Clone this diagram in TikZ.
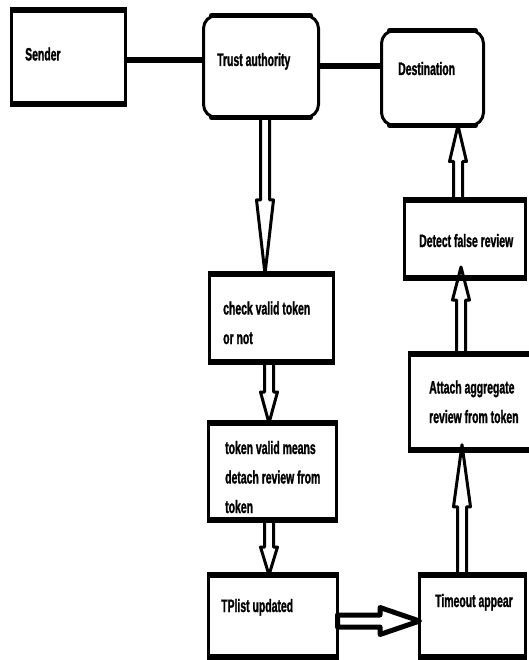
\documentclass[tikz,border=0pt]{standalone}
\usepackage{fontspec}
\newfontfamily\lblfont[FakeStretch=0.58, FakeBold=1.2]{Liberation Sans}
\usetikzlibrary{calc}
\tikzset{
  box/.style={draw, line width=3pt, inner sep=0pt, outer sep=0pt},
  rbox/.style={box, rounded corners=13pt},
  heavy/.style={line width=6pt, shorten <=-1.5pt, shorten >=-1.5pt},
  rheavy/.style={line width=5pt, shorten <=8pt, shorten >=8pt, line cap=round},
  link/.style={line width=6pt},
  lbl/.style={anchor=base west, inner sep=0pt, font=\lblfont\bfseries\fontsize{18}{29.5}\selectfont, align=left},
  harr/.style={line width=3pt, line join=round},
  hharr/.style={line width=5pt, line join=round},
  harrow/.style n args={3}{to path={
    let \p1=(\tikztostart), \p2=(\tikztotarget), \p3=($(\p2)!#1!(\p1)$) in
    ($(\p1)!#2!90:(\p2)$) -- ($(\p3)!#2!90:(\p2)$) -- ($(\p3)!#3!90:(\p2)$) -- (\p2)
    -- ($(\p3)!#3!-90:(\p2)$) -- ($(\p3)!#2!-90:(\p2)$) -- ($(\p1)!#2!-90:(\p2)$) -- cycle}},
}
\begin{document}
\begin{tikzpicture}[x=1pt, y=-1pt]
\useasboundingbox[fill=white] (0,0) rectangle (529,660);

% boxes
\node[box,  minimum width=114pt, minimum height=94pt]   (sender) at (68.5,57) {};
\node[rbox, minimum width=115pt, minimum height=102pt]  (ta)     at (261,66.5) {};
\node[rbox, minimum width=102pt, minimum height=95pt]   (dest)   at (432.5,78) {};
\node[box,  minimum width=124pt, minimum height=88pt]   (cv)     at (271.5,318) {};
\node[box,  minimum width=128pt, minimum height=97pt]   (tv)     at (272.5,471.5) {};
\node[box,  minimum width=129pt, minimum height=82pt]   (tp)     at (273,616) {};
\node[box,  minimum width=106pt, minimum height=82pt]   (to)     at (472.5,616) {};
\node[box,  minimum width=121pt, minimum height=78pt]   (dfr)    at (465,239) {};
\node[box,  minimum width=125.5pt, minimum height=95.5pt] (aat)  at (472.25,402) {};

% heavy top and bottom edges
\foreach \n in {sender,cv,tv,tp,to,dfr,aat}{
  \draw[heavy] (\n.north west) -- (\n.north east);
  \draw[heavy] (\n.south west) -- (\n.south east);
}
\foreach \n in {ta,dest}{
  \draw[rheavy] (\n.north west) -- (\n.north east);
  \draw[rheavy] (\n.south west) -- (\n.south east);
}

% texts (anchor at baseline of last line)
\node[lbl] (senderT) at (25,60.5) {Sender};
\node[lbl] (taT)     at (217,66)  {Trust authority};
\node[lbl] (destT)   at (398,75)  {Destination};
\node[lbl] (cvT)     at (223,344) {check valid token\\or not};
\node[lbl] (tvT)     at (225,513) {token valid means\\detach review from\\token};
\node[lbl] (tpT)     at (221,612) {TPlist updated};
\node[lbl] (toT)     at (435,607) {Timeout appear};
\node[lbl] (dfrT)    at (419,247) {Detect false review};
\node[lbl] (aatT)    at (429,423) {Attach aggregate\\review from token};

% plain links
\draw[link] ([yshift=-3pt]sender.east) -- ([yshift=-3pt]sender.east -| ta.west);
\draw[link] (ta.east) -- (ta.east -| dest.west);

% hollow arrows
\draw[harr] ([xshift=4pt]ta.south) to[harrow={74pt}{4.5pt}{8.5pt}] ([xshift=-6.5pt]cv.north);
\draw[harr] ([xshift=-2.5pt]cv.south) to[harrow={31pt}{4.5pt}{8.5pt}] ([xshift=-3.5pt]tv.north);
\draw[harr] ([xshift=-3.5pt]tv.south) to[harrow={28pt}{4.5pt}{8.5pt}] ([xshift=-4pt]tp.north);
\draw[hharr] ([yshift=-5pt]tp.east) to[harrow={39.5pt}{6pt}{13.5pt}] ([yshift=-5pt]tp.east -| to.west);
\draw[harr] ([xshift=-10.5pt]to.north) to[harrow={62pt}{4.5pt}{8.5pt}] ([xshift=-10.25pt,yshift=5pt]aat.south);
\draw[harr] ([xshift=-11.25pt]aat.north) to[harrow={33pt}{4.5pt}{8.5pt}] ([xshift=-4pt,yshift=11pt]dfr.south);
\draw[harr] ([xshift=-7pt]dfr.north) to[harrow={36pt}{4.5pt}{8.5pt}] ([xshift=25.5pt]dest.south);
\end{tikzpicture}
\end{document}
